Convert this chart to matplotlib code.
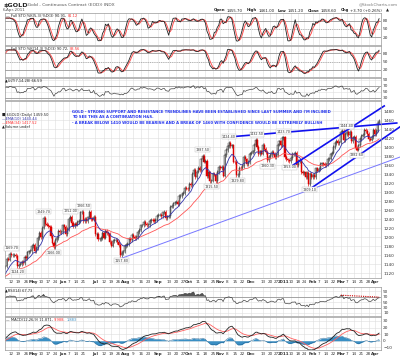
import numpy as np
import pandas as pd
import matplotlib
matplotlib.use('Agg')
import matplotlib.pyplot as plt

warmup = [1106, 1117, 1111, 1063, 1065, 1067, 1075, 1071, 1093, 1089, 1116,
          1118, 1119, 1119, 1115, 1101, 1097, 1107, 1117,
          1118, 1137, 1142, 1132, 1134, 1122, 1123, 1108, 1107, 1102, 1106,
          1123, 1127, 1127, 1107, 1101, 1101, 1089, 1091, 1105, 1108, 1110,
          1113, 1126, 1133]
apr10 = [1135, 1152, 1150, 1162, 1160, 1160, 1161, 1158, 1136, 1139, 1140,
         1144, 1142, 1156, 1154, 1166, 1168, 1169, 1180]
may10 = [1183, 1169, 1176, 1198, 1210, 1200, 1221, 1243, 1229, 1228, 1224,
         1222, 1203, 1188, 1178, 1194, 1198, 1213, 1212, 1212]
jun10 = [1226, 1222, 1206, 1218, 1240, 1245, 1231, 1224, 1230, 1228, 1234,
         1236, 1255, 1256, 1236, 1240, 1235, 1244, 1256, 1240, 1239, 1245]
jul10 = [1207, 1208, 1195, 1195, 1198, 1210, 1199, 1214, 1209, 1207, 1189,
         1181, 1192, 1193, 1194, 1189, 1183, 1160, 1164, 1168, 1180]
aug10 = [1182, 1185, 1196, 1193, 1205, 1201, 1198, 1200, 1212, 1216, 1226,
         1226, 1234, 1229, 1227, 1227, 1236, 1239, 1238, 1236, 1238, 1248]
sep10 = [1250, 1250, 1247, 1255, 1257, 1243, 1246, 1246, 1268, 1269, 1275,
         1277, 1278, 1274, 1292, 1292, 1297, 1298, 1309, 1308, 1307]
oct10 = [1318, 1316, 1340, 1349, 1333, 1346, 1354, 1350, 1373, 1381, 1368,
         1369, 1335, 1344, 1325, 1326, 1340, 1339, 1325, 1345, 1357]
nov10 = [1353, 1356, 1337, 1383, 1394, 1403, 1410, 1403, 1404, 1368, 1367,
         1338, 1338, 1354, 1353, 1358, 1378, 1373, 1362, 1367, 1386]
dec10 = [1388, 1391, 1406, 1416, 1400, 1384, 1391, 1386, 1405, 1397, 1390,
         1371, 1378, 1383, 1390, 1386, 1379, 1383, 1406, 1413, 1405, 1421]
jan11 = [1422, 1378, 1373, 1371, 1369, 1376, 1385, 1385, 1387, 1361, 1369,
         1371, 1345, 1342, 1344, 1333, 1343, 1318, 1341, 1333]
feb11 = [1339, 1334, 1353, 1348, 1351, 1363, 1364, 1363, 1360, 1362, 1374,
         1375, 1384, 1388, 1400, 1410, 1415, 1410, 1411]
mar11 = [1434, 1437, 1416, 1429, 1434, 1427, 1434, 1413, 1421, 1423, 1399,
         1395, 1404, 1418, 1426, 1427, 1438, 1436, 1430, 1418, 1417, 1423, 1439]
apr11 = [1429, 1437, 1455, 1459]

holidays = ['2010-05-31', '2010-07-05', '2010-09-06', '2010-11-25',
            '2010-12-24', '2011-01-17', '2011-02-21']

tick_dates = ['2010-04-12', '2010-04-19', '2010-04-26', '2010-05-03', '2010-05-10',
              '2010-05-17', '2010-05-24', '2010-06-01', '2010-06-07', '2010-06-14',
              '2010-06-21', '2010-07-01', '2010-07-12', '2010-07-19', '2010-07-26',
              '2010-08-02', '2010-08-09', '2010-08-16', '2010-08-23', '2010-09-01',
              '2010-09-13', '2010-09-20', '2010-09-27', '2010-10-01', '2010-10-11',
              '2010-10-18', '2010-10-25', '2010-11-01', '2010-11-08', '2010-11-15',
              '2010-11-22', '2010-12-01', '2010-12-13', '2010-12-20', '2010-12-27',
              '2011-01-03', '2011-01-10', '2011-01-18', '2011-01-24', '2011-02-01',
              '2011-02-07', '2011-02-14', '2011-02-22', '2011-03-01', '2011-03-07',
              '2011-03-14', '2011-03-21', '2011-03-28', '2011-04-01']
tick_labels = ['12', '19', '26', 'May', '10', '17', '24', 'Jun', '7', '14', '21',
               'Jul', '12', '19', '26', 'Aug', '9', '16', '23', 'Sep', '13', '20',
               '27', 'Oct', '11', '18', '25', 'Nov', '8', '15', '22', 'Dec', '13',
               '20', '27', '2011', '10', '18', '24', 'Feb', '7', '14', '22', 'Mar',
               '7', '14', '21', '28', 'Apr']

# high / low labels on the candles: (date, text, above?)
peak_dates = ['2010-04-12', '2010-04-16', '2010-05-12', '2010-05-21', '2010-06-08',
              '2010-06-21', '2010-07-28', '2010-10-14', '2010-10-22', '2010-11-09',
              '2010-11-17', '2010-12-07', '2010-12-16', '2011-01-03', '2011-01-07',
              '2011-01-28', '2011-03-07', '2011-03-16']
peak_texts = ['1169.70', '1124.20', '1249.70', '1166.00', '1252.00', '1266.50',
              '1157.80', '1387.50', '1315.50', '1424.40', '1329.80', '1432.50',
              '1360.30', '1423.70', '1353.00', '1309.10', '1444.40', '1382.60']
peak_up = [True, False, True, False, True, True, False, True, False, True, False,
           True, False, True, False, False, True, False]

# hand drawn trendlines (bar index, price)
trend_support = [(79, 1153), (268, 1378)]
trend_resist = [(152, 1423), (266, 1454)]
chan_upper = [(193.5, 1356), (257.5, 1492)]
chan_lower = [(207, 1307), (268, 1445)]
rsi_trend = [('2011-03-01', 75), ('2011-04-06', 68)]

note = ["GOLD - STRONG SUPPORT AND RESISTANCE TRENDLINES HAVE BEEN ESTABLISHED SINCE LAST SUMMER AND I'M INCLINED",
        "TO SEE THIS AS A CONTINUATION H&S.",
        "- A BREAK BELOW 1410 WOULD BE BEARISH AND A BREAK OF 1460 WITH CONFIDENCE WOULD BE EXTREMELY BULLISH"]

# ---------------------------------------------------------------
dates = pd.bdate_range('2010-04-06', '2011-04-06')
dates = dates[~dates.isin(pd.to_datetime(holidays))]
close_all = np.array(warmup + apr10 + may10 + jun10 + jul10 + aug10 + sep10 +
                     oct10 + nov10 + dec10 + jan11 + feb11 + mar11 + apr11, float)
nw = len(warmup)
open_all = np.r_[close_all[0], close_all[:-1]]
high_all = np.maximum(open_all, close_all) + 4
low_all = np.minimum(open_all, close_all) - 4
N = len(dates)
pos = {d.strftime('%Y-%m-%d'): i for i, d in enumerate(dates)}

c = pd.Series(close_all)
h = pd.Series(high_all)
l = pd.Series(low_all)


def full_sto(n):
    fast = 100 * (c - l.rolling(n).min()) / (h.rolling(n).max() - l.rolling(n).min())
    k = fast.rolling(3).mean()
    return k.values[nw:], k.rolling(3).mean().values[nw:]


k5, d5 = full_sto(5)
k14, d14 = full_sto(14)

pc = c.shift(1)
bp = c - np.minimum(l, pc)
tr = np.maximum(h, pc) - np.minimum(l, pc)
a7 = bp.rolling(7).sum() / tr.rolling(7).sum()
a14 = bp.rolling(14).sum() / tr.rolling(14).sum()
a28 = bp.rolling(28).sum() / tr.rolling(28).sum()
ult = (100 * (4 * a7 + 2 * a14 + a28) / 7).values[nw:]

diff = c.diff()
up = diff.clip(lower=0).ewm(alpha=1 / 14, adjust=False).mean()
dn = (-diff.clip(upper=0)).ewm(alpha=1 / 14, adjust=False).mean()
rsi = (100 - 100 / (1 + up / dn)).values[nw:]

ema10 = c.ewm(span=10, adjust=False).mean().values[nw:]
ema34 = c.ewm(span=34, adjust=False).mean().values[nw:]
macd = c.ewm(span=12, adjust=False).mean() - c.ewm(span=26, adjust=False).mean()
sig = macd.ewm(span=9, adjust=False).mean()
hist = (macd - sig).values[nw:]
macd = macd.values[nw:]
sig = sig.values[nw:]

op = open_all[nw:]
cl = close_all[nw:]
hi = high_all[nw:]
lo = low_all[nw:]
x = np.arange(N)

# ---------------------------------------------------------------
W, H = 400, 359
fig = plt.figure(figsize=(W / 100, H / 100), dpi=100)
fig.patch.set_facecolor('white')
plt.rcParams['font.family'] = ['DejaVu Sans']
renderer = fig.canvas.get_renderer()

GRID = '#dddddd'
XL = (-0.6, 255.3)
tick_pos = [pos[d] for d in tick_dates]


def panel(top, bot, ylim, yticks):
    ax = fig.add_axes([4.5 / W, 1 - bot / H, (381 - 4.5) / W, (bot - top) / H])
    ax.set_xlim(*XL)
    ax.set_ylim(*ylim)
    ax.set_xticks(tick_pos)
    ax.set_xticklabels([])
    ax.set_yticks(yticks)
    ax.yaxis.tick_right()
    ax.tick_params(length=0, labelsize=3.1, labelcolor='#333333', pad=1.5)
    ax.grid(True, color=GRID, lw=0.4)
    ax.set_axisbelow(True)
    for s in ax.spines.values():
        s.set_color('#999999')
        s.set_linewidth(0.5)
    return ax


def xlabels(ax):
    ax.set_xticklabels(tick_labels)
    ax.tick_params(axis='x', labelsize=3.0, pad=1.2)
    for t in ax.get_xticklabels():
        if not t.get_text().isdigit() or t.get_text() == '2011':
            t.set_fontweight('bold')


def ptext(px, py, s, color='#222222', size=2.8, weight='normal', ha='left'):
    t = fig.text(px / W, 1 - py / H, s, color=color, fontsize=size,
                 fontweight=weight, ha=ha, va='center')
    return t.get_window_extent(renderer).x1


def pieces(px, py, parts, size=2.6):
    # consecutive text runs with their own colours
    for s, col in parts:
        px = ptext(px, py, s, color=col, size=size) + 1.2


# header
ptext(3, 5, '$GOLD', size=4.6, weight='bold')
ptext(26, 5, '(Gold - Continuous Contract (EOD)) INDX', size=3.2, color='#555555')
ptext(3, 10.5, '6-Apr-2011', size=3.0, color='#555555')
ptext(398, 4, '@StockCharts.com', size=3.0, color='#777777', ha='right')
hdr = [('Open', 'bold'), ('1455.70', 'normal'), ('High', 'bold'),
       ('1461.00', 'normal'), ('Low', 'bold'), ('1451.20', 'normal'),
       ('Close', 'bold'), ('1458.60', 'normal'), ('Chg', 'bold'),
       ('+3.70 (+0.26%)', 'normal'), ('\u25b2', 'normal')]
hx = 214
for s, wt in hdr:
    hx = ptext(hx, 10.5, s, size=2.8, weight=wt) + (1.5 if wt == 'bold' else 3.5)

# stochastics
for top, bot, k, d, lab, lk, ld in [(13, 45, k5, d5, 'Full STO %K(5,3) %D(3)', '90.91,', '81.12'),
                                    (46, 77, k14, d14, 'Full STO %K(14,3) %D(3)', '90.72,', '83.56')]:
    ax = panel(top, bot, (-8, 108), [20, 50, 80])
    ax.axhline(80, color='#888888', lw=0.5)
    ax.axhline(20, color='#888888', lw=0.5)
    ax.axhline(50, color='#888888', lw=0.4, ls=(0, (2, 2)))
    ax.plot(x, d, color='#ff5050', lw=0.7)
    ax.plot(x, k, color='#222222', lw=0.6)
    pieces(6, top + 3, [('\u2014', '#222222'), (lab + ' ' + lk, '#222222'), (ld, '#ff3030')])

# ultimate oscillator
ax = panel(78, 100, (22, 96), [30, 50, 70, 90])
ax.axhline(70, color='#888888', lw=0.5)
ax.axhline(30, color='#888888', lw=0.5)
ax.plot(x, ult, color='#444444', lw=0.5)
ptext(5, 81, '\u25b2ULT(7,14,28) 66.59', size=2.6)

# price panel
ax = panel(101, 278, (1109, 1503), np.arange(1120, 1481, 20))
upm = cl >= op
ax.vlines(x[upm], lo[upm], hi[upm], color='#333333', lw=0.45)
ax.vlines(x[~upm], lo[~upm], hi[~upm], color='#dd0000', lw=0.45)
ax.bar(x[upm], cl[upm] - op[upm], bottom=op[upm], width=0.8, color='white',
       edgecolor='#333333', lw=0.35)
ax.bar(x[~upm], op[~upm] - cl[~upm], bottom=cl[~upm], width=0.8, color='#dd0000',
       edgecolor='#dd0000', lw=0.35)
ax.plot(x, ema34, color='#ff5555', lw=0.6)
ax.plot(x, ema10, color='#3333aa', lw=0.6)
for pts, col, lw in [(trend_support, '#7777ff', 0.7), (trend_resist, '#1111ee', 1.2),
                     (chan_upper, '#1111ee', 1.2), (chan_lower, '#1111ee', 1.2)]:
    ax.plot([p[0] for p in pts], [p[1] for p in pts], color=col, lw=lw, clip_on=False)
for dstr, txt, above in zip(peak_dates, peak_texts, peak_up):
    i = pos[dstr]
    yv = hi[i] + 9 if above else lo[i] - 9
    ax.text(i, yv, txt, fontsize=2.4, color='#333333', ha='center', va='center',
            bbox=dict(boxstyle='square,pad=0.15', fc='white', ec='#bbbbbb', lw=0.3))
ptext(2, 115, '\u25a0 $GOLD (Daily) 1459.50', size=2.6)
ptext(2, 119, '\u2014EMA(10) 1440.44', size=2.6, color='#3333aa')
ptext(2, 123, '\u2014EMA(34) 1417.52', size=2.6, color='#ff3030')
ptext(2, 127, '\u25b2Volume undef', size=2.6)
for j, line in enumerate(note):
    ptext(72, 112 + [0, 5, 11][j], line, size=2.72, weight='bold', color='#2233ee')
xlabels(ax)

# RSI
ax = panel(287, 316, (-1, 105), [10, 30, 50, 70, 90])
ax.axhline(70, color='#888888', lw=0.5)
ax.axhline(30, color='#888888', lw=0.5)
ax.fill_between(x, 70, rsi, where=rsi > 70, color='#555555', lw=0)
ax.plot(x, rsi, color='#444444', lw=0.5)
ax.plot([pos[rsi_trend[0][0]], pos[rsi_trend[1][0]]], [rsi_trend[0][1], rsi_trend[1][1]],
        color='#cc0000', lw=0.8, ls=(0, (1, 1)))
ptext(5, 290, '\u25b2RSI(14) 67.73', size=2.6)

# MACD
ax = panel(317, 350, (-14, 36), [-10, 0, 10, 20, 30])
ax.fill_between(x, 0, hist, color='#3a8fc4', lw=0)
ax.plot(x, hist, color='#1f5f8f', lw=0.3)
ax.plot(x, sig, color='#ff6060', lw=0.6)
ax.plot(x, macd, color='#222222', lw=0.6)
pieces(6, 320, [('\u2014', '#222222'), ('MACD(12,26,9) 11.871,', '#222222'),
                ('9.988,', '#ff3030'), ('1.883', '#3a8fc4')])
xlabels(ax)

fig.savefig('out.png', dpi=100, facecolor='white')
